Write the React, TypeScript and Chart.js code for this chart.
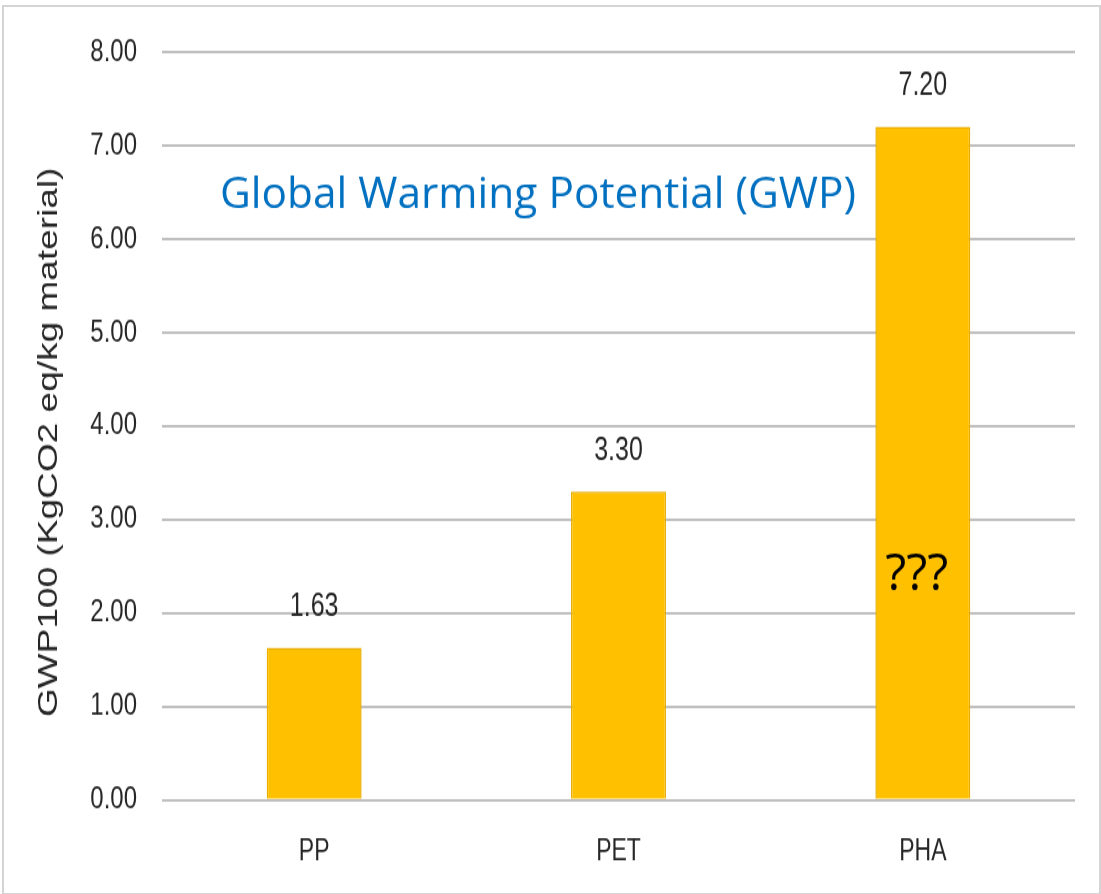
import React, { useEffect, useRef } from "react";
import { Chart, registerables } from "chart.js";

Chart.register(...registerables);

// ---- data ----
const categories = ["PP", "PET", "PHA"];
const gwpValues = [1.63, 3.3, 7.2];
const valueLabels = ["1.63", "3.30", "7.20"];
const yTickMin = 0;
const yTickMax = 8;
const yTickStep = 1;
const chartTitle = "Global Warming Potential (GWP)";
const yAxisTitle = "GWP100 (KgCO2 eq/kg material)";
const noteText = "???";
const noteCategory = "PHA";
const noteValue = 2.4;

// the reference picture is stretched vertically; draw at a reduced height and stretch
const PAGE_W = 1101;
const PAGE_H = 894;
const CANVAS_H = 688;
const STRETCH = PAGE_H / CANVAS_H;

const SANS = "'Liberation Sans', Arial, sans-serif";
const TEXT = "#262626";

const overlayPlugin = {
  id: "overlay",
  afterDatasetsDraw(chart: any) {
    const ctx = chart.ctx as CanvasRenderingContext2D;
    const { chartArea, scales } = chart;
    const meta = chart.getDatasetMeta(0);
    ctx.save();

    // value labels above bars
    ctx.font = `25px ${SANS}`;
    ctx.fillStyle = TEXT;
    ctx.textAlign = "center";
    ctx.textBaseline = "middle";
    meta.data.forEach((bar: any, i: number) => {
      ctx.fillText(valueLabels[i], bar.x, bar.y - 31);
    });

    // in-chart title
    ctx.fillStyle = "#0070C0";
    ctx.font = "32px 'Open Sans', sans-serif";
    ctx.textAlign = "left";
    ctx.textBaseline = "alphabetic";
    const tw = ctx.measureText(chartTitle).width;
    ctx.save();
    ctx.translate(chartArea.left + 58, 159.5);
    ctx.scale(636 / tw, 1);
    ctx.fillText(chartTitle, 0, 0);
    ctx.restore();

    // note inside PHA bar
    const idx = categories.indexOf(noteCategory);
    const nx = scales.x.getPixelForValue(idx) - 6;
    const ny = scales.y.getPixelForValue(noteValue);
    ctx.fillStyle = "#000000";
    ctx.font = "38px 'Open Sans', sans-serif";
    ctx.textAlign = "center";
    ctx.textBaseline = "middle";
    const nw = ctx.measureText(noteText).width;
    ctx.save();
    ctx.translate(nx, ny);
    ctx.scale(63 / nw, 1);
    ctx.fillText(noteText, 0, 0);
    ctx.restore();

    // y-axis title
    ctx.fillStyle = TEXT;
    ctx.font = `28.5px ${SANS}`;
    ctx.textAlign = "center";
    ctx.textBaseline = "alphabetic";
    ctx.save();
    ctx.translate(57, (chartArea.top + chartArea.bottom) / 2 + 12.5);
    ctx.rotate(-Math.PI / 2);
    ctx.fillText(yAxisTitle, 0, 0);
    ctx.restore();

    ctx.restore();
  },
};

export default function App() {
  const canvasRef = useRef<HTMLCanvasElement | null>(null);

  useEffect(() => {
    if (!canvasRef.current) return;
    const chart = new Chart(canvasRef.current, {
      type: "bar",
      data: {
        labels: categories,
        datasets: [
          {
            data: gwpValues,
            backgroundColor: "#FFC000",
            borderColor: "#E9AE00",
            borderWidth: 1.5,
            categoryPercentage: 1,
            barPercentage: 0.312,
          },
        ],
      },
      options: {
        animation: false,
        responsive: false,
        devicePixelRatio: 1,
        layout: { padding: { left: 0, top: 40, right: 26, bottom: 0 } },
        plugins: {
          legend: { display: false },
          tooltip: { enabled: false },
          title: { display: false },
        },
        scales: {
          x: {
            grid: { display: false, drawTicks: false },
            border: { display: false },
            ticks: {
              color: TEXT,
              font: { family: SANS, size: 23 },
              padding: 26,
            },
            afterFit(scale: any) {
              scale.height = 72.3;
            },
          },
          y: {
            min: yTickMin,
            max: yTickMax,
            grid: { color: "#BFBFBF", lineWidth: 2, drawTicks: false },
            border: { display: false },
            ticks: {
              stepSize: yTickStep,
              color: TEXT,
              font: { family: SANS, size: 24 },
              padding: 25,
              callback: (v: any) => Number(v).toFixed(2),
            },
            afterFit(scale: any) {
              scale.width = 162;
            },
          },
        },
      },
      plugins: [overlayPlugin],
    });
    return () => chart.destroy();
  }, []);

  return (
    <div
      style={{
        position: "fixed",
        left: 0,
        top: 0,
        width: PAGE_W,
        height: PAGE_H,
        background: "#ffffff",
        overflow: "hidden",
      }}
    >
      <div
        style={{
          position: "absolute",
          left: 0,
          top: 0,
          width: PAGE_W,
          height: CANVAS_H,
          transform: `scaleY(${STRETCH})`,
          transformOrigin: "0 0",
        }}
      >
        <canvas ref={canvasRef} width={PAGE_W} height={CANVAS_H} />
      </div>
      <div
        style={{
          position: "absolute",
          left: 2,
          top: 5,
          width: 1095,
          height: 886,
          border: "2px solid #D4D4D4",
          pointerEvents: "none",
        }}
      />
    </div>
  );
}
